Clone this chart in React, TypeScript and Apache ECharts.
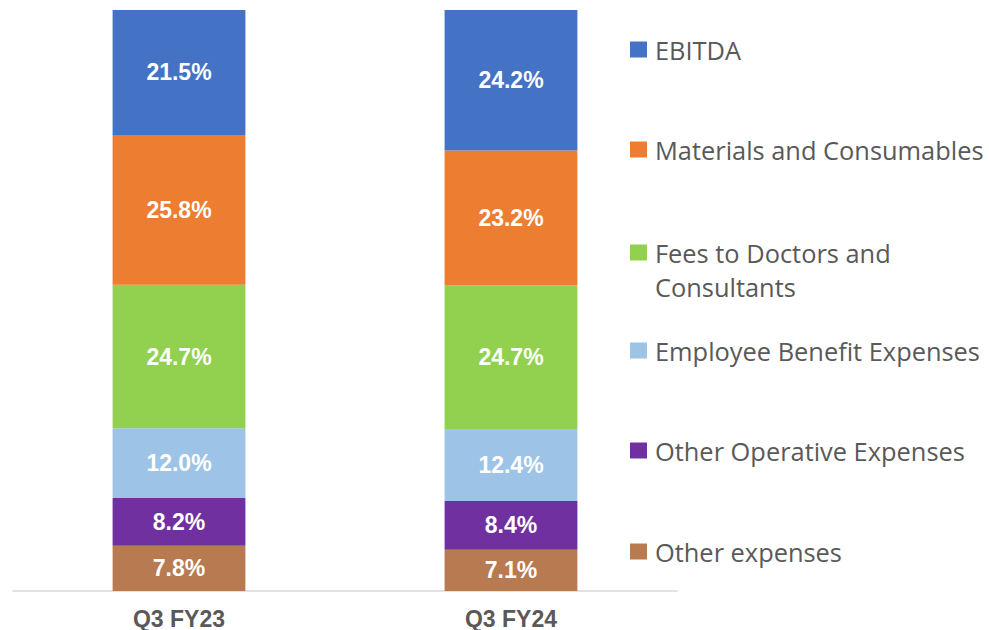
import React, { useEffect, useRef } from "react";
import * as echarts from "echarts";

const categories = ["Q3 FY23", "Q3 FY24"];
const seriesNames = [
  "Other expenses",
  "Other Operative Expenses",
  "Employee Benefit Expenses",
  "Fees to Doctors and Consultants",
  "Materials and Consumables",
  "EBITDA",
];
const otherExpenses = [7.8, 7.1];
const otherOperative = [8.2, 8.4];
const employeeBenefit = [12.0, 12.4];
const feesDoctors = [24.7, 24.7];
const materials = [25.8, 23.2];
const ebitda = [21.5, 24.2];
const seriesValues = [otherExpenses, otherOperative, employeeBenefit, feesDoctors, materials, ebitda];
const colors = ["#B87A50", "#7030A0", "#9DC3E6", "#92D050", "#ED7D31", "#4472C4"];

// legend order top to bottom and icon center y positions
const legendOrder = [
  "EBITDA",
  "Materials and Consumables",
  "Fees to Doctors and Consultants",
  "Employee Benefit Expenses",
  "Other Operative Expenses",
  "Other expenses",
];
const legendCenters = [50, 150, 251, 351, 451, 552];

const LEGEND_FONT = 25.4;
const LEGEND_OFFSET = 15.5;
const TWO_LINE_HEIGHT = 34;

export default function App() {
  const ref = useRef<HTMLDivElement>(null);
  useEffect(() => {
    if (!ref.current) return;
    const chart = echarts.init(ref.current, null, { renderer: "svg" });
    const legends = legendOrder.map((name, i) => {
      const twoLine = name === "Fees to Doctors and Consultants";
      return {
        show: true,
        left: 630,
        top: legendCenters[i] - LEGEND_OFFSET - (twoLine ? TWO_LINE_HEIGHT : 0),
        padding: 0,
        orient: "vertical",
        icon: "rect",
        itemWidth: 17,
        itemHeight: 16,
        selectedMode: false,
        data: [name],
        // leading empty line keeps the first text line level with the square
        formatter: twoLine ? () => "\nFees to Doctors and\nConsultants" : undefined,
        textStyle: {
          color: "#595959",
          fontSize: LEGEND_FONT,
          fontFamily: "'Open Sans', 'Noto Sans', sans-serif",
          lineHeight: twoLine ? TWO_LINE_HEIGHT : 30,
          padding: [0, 0, 0, 3],
        },
      };
    });
    chart.setOption({
      animation: false,
      grid: { left: 13, right: 312, top: 10, bottom: 38, containLabel: false },
      legend: legends,
      xAxis: {
        type: "category",
        data: categories,
        axisLine: { show: true, lineStyle: { color: "#D9D9D9", width: 1.5 } },
        axisTick: { show: false },
        axisLabel: {
          color: "#595959",
          fontWeight: "bold",
          fontSize: 23,
          fontFamily: "'Liberation Sans', Arial, sans-serif",
          margin: 16,
        },
      },
      yAxis: {
        type: "value",
        min: 0,
        max: 100,
        show: false,
        splitLine: { show: false },
      },
      series: seriesNames.map((name, i) => ({
        name,
        type: "bar",
        stack: "total",
        barWidth: "40%",
        data: seriesValues[i],
        itemStyle: { color: colors[i] },
        label: {
          show: true,
          position: "inside",
          color: "#FFFFFF",
          fontWeight: "bold",
          fontSize: 23,
          fontFamily: "'Liberation Sans', Arial, sans-serif",
          formatter: (p: any) => Number(p.value).toFixed(1) + "%",
        },
      })),
    });
    return () => chart.dispose();
  }, []);
  return (
    <div
      ref={ref}
      style={{ position: "fixed", left: 0, top: 0, width: 989, height: 630, background: "#fff" }}
    />
  );
}
